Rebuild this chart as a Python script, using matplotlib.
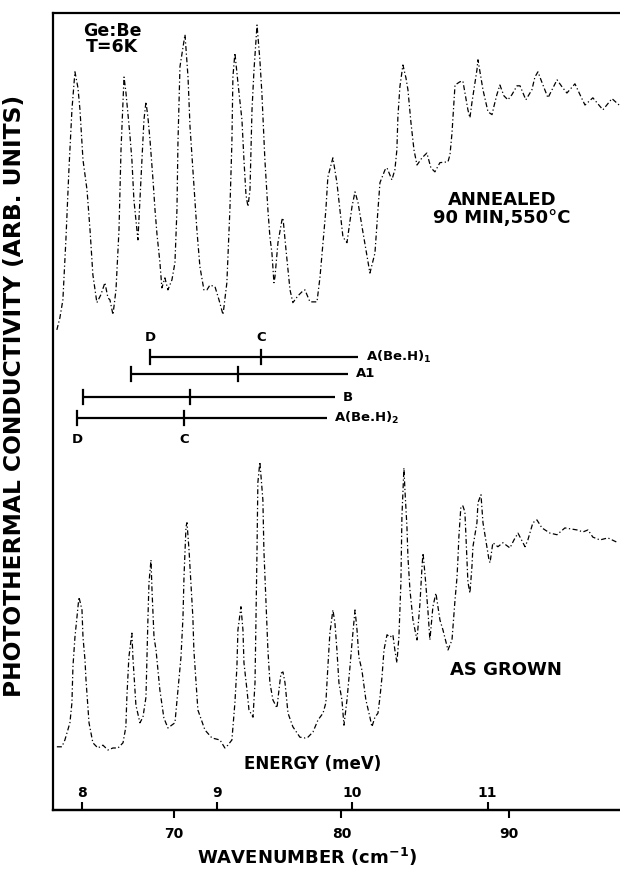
import matplotlib
matplotlib.use("Agg")
import matplotlib.pyplot as plt

plt.rcParams['font.family'] = ['DejaVu Sans']
plt.rcParams['font.weight'] = 'bold'
plt.rcParams['mathtext.default'] = 'bf'

# --- spectra (wavenumber in cm^-1, signal in arb. units) ---
annealed_wn = [63.01, 63.19, 63.37, 63.55, 63.73, 63.91, 64.09, 64.27, 64.39, 64.57,
               64.81, 64.99, 65.16, 65.40, 65.64, 65.88, 66.06, 66.18, 66.36, 66.54,
               66.72, 66.84, 66.96, 67.02, 67.13, 67.37, 67.49, 67.61, 67.85, 67.97,
               68.09, 68.21, 68.33, 68.45, 68.57, 68.75, 68.87, 68.99, 69.16, 69.28,
               69.46, 69.64, 69.88, 70.06, 70.18, 70.24, 70.36, 70.66, 70.84, 70.96,
               71.13, 71.37, 71.55, 71.79, 71.97, 72.15, 72.45, 72.69, 72.93, 73.16,
               73.34, 73.46, 73.52, 73.64, 73.82, 74.06, 74.18, 74.30, 74.42, 74.54,
               74.66, 74.78, 74.96, 75.13, 75.25, 75.43, 75.61, 75.73, 75.85, 75.97,
               76.03, 76.21, 76.45, 76.51, 76.69, 76.93, 77.10, 77.40, 77.64, 77.82,
               78.12, 78.54, 78.72, 78.90, 79.07, 79.19, 79.49, 79.73, 79.91, 80.09,
               80.33, 80.63, 80.81, 80.99, 81.28, 81.70, 82.00, 82.18, 82.30, 82.60,
               82.72, 83.01, 83.19, 83.31, 83.37, 83.49, 83.67, 83.85, 83.97, 84.15,
               84.33, 84.51, 84.81, 85.10, 85.34, 85.58, 85.88, 86.36, 86.48, 86.60,
               86.66, 86.78, 87.07, 87.25, 87.55, 87.67, 87.79, 87.97, 88.09, 88.15,
               88.45, 88.75, 88.99, 89.10, 89.28, 89.46, 89.70, 89.94, 90.18, 90.48,
               90.66, 91.01, 91.37, 91.55, 91.73, 92.03, 92.33, 92.57, 92.87, 93.16,
               93.46, 93.94, 94.24, 94.54, 95.01, 95.31, 95.61, 96.15, 96.63]
annealed_sig = [60.0, 61.5, 63.75, 71.25, 80.0, 87.5, 92.25, 90.25, 87.5, 81.25,
                77.5, 72.5, 66.9, 63.4, 64.4, 65.9, 64.0, 63.75, 61.9, 65.0,
                72.5, 82.5, 88.75, 91.6, 89.75, 84.4, 81.25, 76.25, 71.25, 76.25,
                81.25, 86.25, 88.5, 86.5, 83.75, 78.75, 75.0, 71.9, 68.5, 65.25,
                66.5, 65.0, 66.25, 68.4, 75.0, 83.4, 92.9, 96.9, 91.6, 85.4,
                80.0, 72.5, 67.9, 65.0, 65.0, 65.6, 65.4, 63.75, 61.9, 65.9,
                75.0, 83.4, 91.6, 94.6, 90.9, 86.25, 81.25, 76.9, 75.4, 77.5,
                87.5, 92.5, 98.1, 93.75, 89.6, 81.25, 75.0, 71.6, 69.6, 65.9,
                66.6, 70.9, 73.75, 74.0, 70.0, 65.0, 63.4, 64.25, 64.75, 65.0,
                63.5, 63.5, 66.6, 70.9, 75.0, 79.1, 81.5, 78.4, 75.0, 71.6,
                70.9, 75.4, 77.25, 75.9, 72.25, 67.1, 69.6, 75.0, 78.4, 80.0,
                80.25, 78.75, 80.0, 82.5, 86.6, 90.4, 93.1, 91.5, 90.0, 85.9,
                82.5, 80.6, 81.5, 82.1, 80.25, 79.75, 80.9, 81.0, 81.9, 84.6,
                86.6, 90.6, 91.0, 91.1, 87.5, 86.5, 88.4, 90.9, 92.5, 93.75,
                90.0, 87.25, 86.9, 87.9, 89.4, 90.6, 89.25, 88.75, 89.4, 90.5,
                90.5, 88.75, 90.0, 91.6, 92.25, 90.6, 89.0, 90.0, 91.25, 90.4,
                89.6, 90.75, 89.4, 88.1, 89.0, 88.25, 87.5, 88.9, 88.0]

grown_wn = [63.01, 63.31, 63.49, 63.79, 63.91, 63.97, 64.09, 64.21, 64.33, 64.51,
            64.57, 64.69, 64.75, 64.93, 65.16, 65.46, 65.76, 66.06, 66.36, 66.66,
            66.96, 67.13, 67.19, 67.31, 67.49, 67.55, 67.73, 67.97, 68.15, 68.33,
            68.39, 68.45, 68.51, 68.63, 68.69, 68.81, 68.93, 69.16, 69.40, 69.64,
            70.06, 70.24, 70.42, 70.54, 70.60, 70.72, 70.78, 70.90, 71.01, 71.13,
            71.19, 71.43, 71.85, 72.27, 72.75, 73.04, 73.22, 73.46, 73.64, 73.76,
            73.82, 74.00, 74.12, 74.18, 74.36, 74.48, 74.72, 74.84, 74.90, 74.96,
            75.01, 75.13, 75.31, 75.37, 75.49, 75.55, 75.61, 75.73, 75.91, 76.15,
            76.27, 76.39, 76.51, 76.63, 76.81, 77.10, 77.52, 77.82, 78.00, 78.30,
            78.60, 78.90, 79.07, 79.19, 79.31, 79.49, 79.61, 79.73, 79.85, 80.03,
            80.15, 80.33, 80.51, 80.63, 80.81, 80.93, 81.04, 81.22, 81.46, 81.70,
            81.82, 82.00, 82.18, 82.30, 82.42, 82.54, 82.72, 82.90, 83.07, 83.19,
            83.31, 83.43, 83.55, 83.61, 83.73, 83.79, 83.91, 83.97, 84.09, 84.27,
            84.51, 84.69, 84.81, 84.87, 84.99, 85.16, 85.28, 85.46, 85.64, 85.88,
            86.06, 86.36, 86.60, 86.78, 86.90, 86.96, 87.01, 87.13, 87.25, 87.37,
            87.55, 87.67, 87.79, 87.85, 88.09, 88.15, 88.33, 88.45, 88.81, 88.87,
            89.04, 89.34, 89.64, 90.06, 90.30, 90.54, 90.96, 91.13, 91.43, 91.67,
            91.97, 92.45, 92.87, 93.34, 94.06, 94.42, 94.72, 95.01, 95.43, 95.91,
            96.51]
grown_sig = [7.9, 7.9, 8.75, 10.9, 13.4, 17.9, 21.6, 24.1, 26.6, 25.0,
             21.6, 18.75, 16.25, 10.9, 8.4, 7.75, 8.1, 7.5, 7.75, 7.75,
             8.4, 10.4, 14.1, 19.1, 22.1, 19.1, 13.1, 10.9, 11.6, 14.1,
             19.1, 24.1, 28.4, 31.25, 27.5, 21.6, 20.0, 15.0, 11.5, 10.25,
             10.9, 15.0, 19.1, 24.1, 29.1, 35.4, 35.9, 32.5, 28.4, 24.1,
             20.0, 12.5, 10.0, 9.0, 8.75, 7.75, 8.1, 8.75, 13.4, 17.9,
             22.5, 25.4, 22.5, 18.4, 15.0, 12.5, 11.6, 15.9, 24.1, 32.5,
             40.9, 43.5, 38.75, 32.5, 26.25, 23.4, 20.0, 15.9, 13.75, 12.75,
             15.0, 17.1, 17.25, 15.9, 12.1, 10.4, 9.1, 9.0, 9.1, 9.75,
             11.25, 12.1, 13.4, 17.9, 22.1, 25.0, 23.4, 20.0, 15.9, 13.75,
             10.6, 13.75, 17.9, 20.9, 25.0, 22.5, 19.1, 17.5, 13.75, 11.6,
             10.4, 11.6, 12.1, 14.1, 16.6, 20.0, 21.9, 21.6, 21.9, 20.0,
             18.4, 21.6, 28.4, 36.6, 42.75, 40.0, 35.4, 31.6, 27.5, 23.75,
             21.25, 25.9, 30.4, 32.1, 29.4, 25.0, 21.25, 25.4, 27.1, 23.75,
             22.5, 20.0, 21.25, 26.25, 29.1, 31.6, 34.1, 37.9, 38.0, 37.25,
             28.5, 27.1, 30.4, 32.9, 35.9, 38.4, 39.4, 35.9, 31.25, 30.9,
             33.4, 32.9, 33.4, 32.75, 33.75, 34.6, 32.9, 33.75, 35.9, 36.25,
             35.25, 34.6, 34.4, 35.25, 35.0, 34.75, 35.0, 34.1, 33.75, 34.0,
             33.4]

# --- level series: D line, C line, end of bar (cm^-1) and bar height ---
series_names = [r'A(Be.H)$_1$', 'A1', 'B', r'A(Be.H)$_2$']
series_D = [68.57, 67.43, 64.57, 64.21]
series_C = [75.19, 73.82, 70.96, 70.60]
series_end = [80.99, 80.39, 79.61, 79.13]
series_y = [56.6, 54.5, 51.6, 49.0]

wn_ticks = [70, 80, 90]
mev_ticks = [8, 9, 10, 11]
CM_PER_MEV = 8.0655

fig = plt.figure(figsize=(6.2, 8.72), dpi=100)
ax = fig.add_axes([53 / 620, 62 / 872, 567 / 620, 797 / 872])

# chart-recorder style broken trace
dash = (0, (4, 2, 1, 2))
ax.plot(annealed_wn, annealed_sig, color='black', lw=0.9, linestyle=dash)
ax.plot(grown_wn, grown_sig, color='black', lw=0.9, linestyle=dash)

# level bars with D and C markers
for name, d, c, end, y in zip(series_names, series_D, series_C, series_end, series_y):
    ax.plot([d, end], [y, y], color='black', lw=1.6, solid_capstyle='butt')
    for xm in (d, c):
        ax.plot([xm, xm], [y - 0.85, y + 0.85], color='black', lw=1.6)
    ax.text(end + 0.45, y, name, fontsize=9.5, fontweight='bold',
            ha='left', va='center')

ax.text(series_D[0], series_y[0] + 2.4, 'D', fontsize=9.5, ha='center', va='center')
ax.text(series_C[0], series_y[0] + 2.4, 'C', fontsize=9.5, ha='center', va='center')
ax.text(series_D[3], series_y[3] - 2.75, 'D', fontsize=9.5, ha='center', va='center')
ax.text(series_C[3], series_y[3] - 2.75, 'C', fontsize=9.5, ha='center', va='center')

ax.text(66.3, 96.3, 'Ge:Be\nT=6K', fontsize=12.5, ha='center', va='center',
        linespacing=0.85)
ax.text(89.6, 75.1, 'ANNEALED\n90 MIN,550°C', fontsize=13, ha='center',
        va='center', linespacing=0.95)
ax.text(89.8, 17.5, 'AS GROWN', fontsize=13, ha='center', va='center')
ax.text(78.3, 5.75, 'ENERGY (meV)', fontsize=12, ha='center', va='center')

ax.set_xlim(62.78, 96.63)
ax.set_ylim(0, 99.6)
ax.set_yticks([])
ax.set_xticks(wn_ticks)
ax.tick_params(axis='x', direction='out', length=6, width=1.5, pad=6, labelsize=10)
for lbl in ax.get_xticklabels():
    lbl.set_fontweight('bold')
ax.spines['right'].set_visible(False)
for s in ('left', 'bottom', 'top'):
    ax.spines[s].set_linewidth(1.6)

# energy scale drawn on the same baseline, ticks pointing inward
sec = ax.secondary_xaxis('bottom', functions=(lambda w: w / CM_PER_MEV,
                                              lambda e: e * CM_PER_MEV))
sec.set_xticks(mev_ticks)
sec.tick_params(direction='in', length=6, width=1.5, pad=-17, labelsize=10)
sec.spines['bottom'].set_linewidth(1.6)
for lbl in sec.get_xticklabels():
    lbl.set_fontweight('bold')

fig.text(307 / 620, 1 - 857 / 872, 'WAVENUMBER (cm$^{-1}$)', fontsize=13,
         ha='center', va='center')
fig.text(15 / 620, 1 - 396 / 872, 'PHOTOTHERMAL CONDUCTIVITY (ARB. UNITS)',
         fontsize=16.8, rotation=90, ha='center', va='center')

fig.savefig('out.png', dpi=100)
